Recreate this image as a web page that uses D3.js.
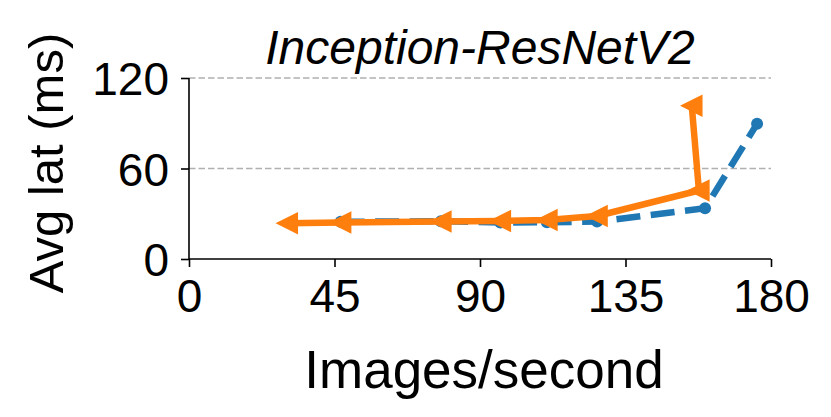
<!DOCTYPE html>
<html>
<head>
<meta charset="utf-8">
<script src="https://cdn.jsdelivr.net/npm/d3@7"></script>
<style>
  html, body { margin: 0; padding: 0; background: #fff; }
  svg { display: block; }
  text { font-family: "Liberation Sans", Arial, sans-serif; fill: #000; }
</style>
</head>
<body>
<svg id="chart" width="831" height="417"></svg>
<script>
// ---- data ----
const title = "Inception-ResNetV2";
const xLabel = "Images/second";
const yLabel = "Avg lat (ms)";
const xTicks = [0, 45, 90, 135, 180];
const yTicks = [0, 60, 120];
const gridTicks = [60, 120];

const blueX = [46.9, 77.9, 96.3, 110.7, 126.2, 159.6, 175.7];
const blueY = [24.7, 25.0, 24.2, 24.4, 24.8, 33.6, 89.7];

const orangeX = [30.4, 46.9, 77.9, 96.3, 110.7, 126.2, 157.7, 155.5];
const orangeY = [23.7, 24.2, 24.9, 25.2, 25.9, 28.5, 45.4, 101.6];

// ---- layout ----
const svg = d3.select("#chart");
const pLeft = 189, pRight = 771, pTop = 78, pBottom = 259;

const x = d3.scaleLinear().domain([0, 180]).range([pLeft, pRight]);
const y = d3.scaleLinear().domain([0, 120]).range([pBottom, pTop]);

// grid
svg.append("g").selectAll("line").data(gridTicks).join("line")
  .attr("x1", pLeft).attr("x2", pRight)
  .attr("y1", d => y(d)).attr("y2", d => y(d))
  .attr("stroke", "#b0b0b0").attr("stroke-width", 1.3)
  .attr("stroke-dasharray", "6.5,3");

// axes
const xAxis = d3.axisBottom(x).tickValues(xTicks).tickSize(8).tickPadding(12).tickFormat(d3.format("d"));
const yAxis = d3.axisLeft(y).tickValues(yTicks).tickSize(8).tickPadding(12).tickFormat(d3.format("d"));

const gx = svg.append("g").attr("transform", `translate(0,${pBottom})`).call(xAxis);
const gy = svg.append("g").attr("transform", `translate(${pLeft},0)`).call(yAxis);

[gx, gy].forEach(g => {
  g.select(".domain").attr("stroke", "#000").attr("stroke-width", 1.6);
  g.selectAll(".tick line").attr("stroke", "#000").attr("stroke-width", 1.6);
  g.selectAll(".tick text").style("font-family", "'Liberation Sans', Arial, sans-serif")
    .style("font-size", "46px").attr("fill", "#000");
});
gx.select(".domain").attr("d", `M${pLeft},0H${pRight}`);
gy.select(".domain").attr("d", `M0,${pBottom}V${pTop}`);
gx.selectAll(".tick text").attr("dy", "0.71em");
gy.selectAll(".tick text").attr("dy", "0.36em");

// lines
const blueData = blueX.map((v, i) => [v, blueY[i]]);
const orangeData = orangeX.map((v, i) => [v, orangeY[i]]);
const line = d3.line().x(d => x(d[0])).y(d => y(d[1]));

svg.append("path").datum(blueData).attr("d", line)
  .attr("fill", "none").attr("stroke", "#1f77b4").attr("stroke-width", 6.5)
  .attr("stroke-dasharray", "24,10.5");
svg.append("g").selectAll("circle").data(blueData).join("circle")
  .attr("cx", d => x(d[0])).attr("cy", d => y(d[1])).attr("r", 6)
  .attr("fill", "#1f77b4");

svg.append("path").datum(orangeData).attr("d", line)
  .attr("fill", "none").attr("stroke", "#ff7f0e").attr("stroke-width", 6.5)
  .attr("stroke-linejoin", "round");
const m = 10;
svg.append("g").selectAll("path").data(orangeData).join("path")
  .attr("transform", d => `translate(${x(d[0])},${y(d[1])})`)
  .attr("d", `M${-m},0L${m},${-m}L${m},${m}Z`)
  .attr("fill", "#ff7f0e").attr("stroke", "#ff7f0e").attr("stroke-width", 1.5)
  .attr("stroke-linejoin", "miter");

// labels
svg.append("text").attr("x", 480).attr("y", 64).attr("text-anchor", "middle")
  .style("font-size", "48px").style("font-style", "italic").text(title);
svg.append("text").attr("x", 484).attr("y", 388).attr("text-anchor", "middle")
  .style("font-size", "53px").text(xLabel);
svg.append("text").attr("transform", "translate(63,163) rotate(-90)").attr("text-anchor", "middle")
  .style("font-size", "49px").text(yLabel);
</script>
</body>
</html>
